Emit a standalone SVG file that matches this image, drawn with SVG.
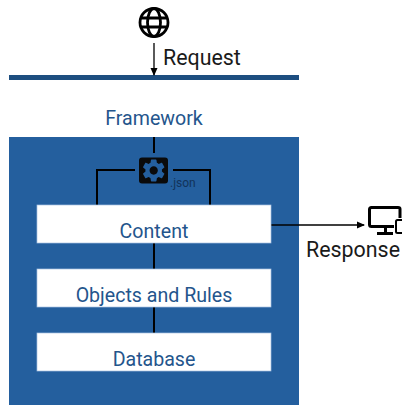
<svg xmlns="http://www.w3.org/2000/svg" width="402" height="405" viewBox="0 0 402 405">
<style>
text{font-family:Roboto,"Liberation Sans",sans-serif}
.blue{fill:#245f9e}
.lbl{fill:#24558c;font-size:19.6px;text-anchor:middle}
.blk{fill:#1a1a1a;font-size:21.4px}
.box{fill:#fff;stroke:#a9c4e2;stroke-width:.7}
.ln{fill:none;stroke:#000;stroke-width:2}
.thin{fill:none;stroke:#000;stroke-width:1.3}
.ic{fill:none;stroke:#000;stroke-width:2.8}
</style>
<defs><marker id="a" markerWidth="8" markerHeight="8" refX="7" refY="4" orient="auto" markerUnits="userSpaceOnUse"><path d="M0 .5L8 4L0 7.500z" fill="#000"/></marker></defs>
<rect x="0" y="0" width="402" height="405" fill="#fff"/>
<g id="bar"><rect x="9" y="75" width="290" height="5" fill="#1d4e80"/></g>
<g id="framework"><rect class="blue" x="9" y="137" width="290" height="268"/><text class="lbl" x="154" y="124.500">Framework</text></g>
<g id="connectors">
<path class="thin" d="M154 43V75" marker-end="url(#a)"/>
<path class="ln" d="M154 137V153"/>
<path class="ln" d="M135 170H97V205"/>
<path class="ln" d="M173 170H210V205"/>
<path class="ln" d="M154 243V269"/>
<path class="ln" d="M154 307V333"/>
<path class="thin" d="M271 225H364" marker-end="url(#a)"/>
</g>
<g id="globe"><circle class="ic" cx="154" cy="22.500" r="14"/><ellipse class="ic" cx="154" cy="22.500" rx="6.500" ry="14"/><path class="ic" d="M141 18H167M141 27H167"/></g>
<text id="request" class="blk" x="163" y="65">Request</text>
<g id="config"><rect x="139" y="157.500" width="29" height="26" rx="3" fill="#0a0a0a"/><path transform="translate(139.900 156.700) scale(1.15)" class="blue" d="M19.14 12.94c.04-.3.06-.61.06-.94 0-.32-.02-.64-.07-.94l2.03-1.58c.18-.14.23-.41.12-.61l-1.92-3.32c-.12-.22-.37-.29-.59-.22l-2.39.96c-.5-.38-1.03-.7-1.62-.94l-.36-2.54c-.04-.24-.24-.41-.48-.41h-3.84c-.24 0-.43.17-.47.41l-.36 2.54c-.59.24-1.13.57-1.62.94l-2.39-.96c-.22-.08-.47 0-.59.22L2.74 8.87c-.12.21-.08.47.12.61l2.03 1.58c-.05.3-.09.63-.09.94s.02.64.07.94l-2.03 1.58c-.18.14-.23.41-.12.61l1.92 3.32c.12.22.37.29.59.22l2.39-.96c.5.38 1.03.7 1.62.94l.36 2.54c.05.24.24.41.48.41h3.84c.24 0 .44-.17.47-.41l.36-2.54c.59-.24 1.13-.56 1.62-.94l2.39.96c.22.08.47 0 .59-.22l1.92-3.32c.12-.22.07-.47-.12-.61l-2.01-1.58zM12 15.6c-1.98 0-3.6-1.62-3.6-3.6s1.62-3.6 3.6-3.6 3.6 1.62 3.6 3.6-1.62 3.6-3.6 3.6z"/><text x="170" y="186.500" font-size="12" fill="#12335a">.json</text></g>
<g id="content"><rect class="box" x="37" y="205" width="234" height="38"/><text class="lbl" x="154" y="238">Content</text></g>
<g id="objects"><rect class="box" x="37" y="269" width="234" height="38"/><text class="lbl" x="154" y="302">Objects and Rules</text></g>
<g id="database"><rect class="box" x="37" y="333" width="234" height="38"/><text class="lbl" x="154" y="366">Database</text></g>
<g id="devices"><path d="M400 218V209Q400 207.500 398 207.500H371.500Q369.500 207.500 369.500 209.500V224.500Q369.500 226.500 371.500 226.500H394" fill="none" stroke="#000" stroke-width="3"/><path d="M385.500 227V233M377 233.500H393" stroke="#000" stroke-width="3" fill="none"/><rect x="396" y="220" width="12" height="13" rx="1.500" fill="#fff" stroke="#000" stroke-width="2"/></g>
<text id="response" class="blk" x="306" y="257">Response</text>
</svg>
